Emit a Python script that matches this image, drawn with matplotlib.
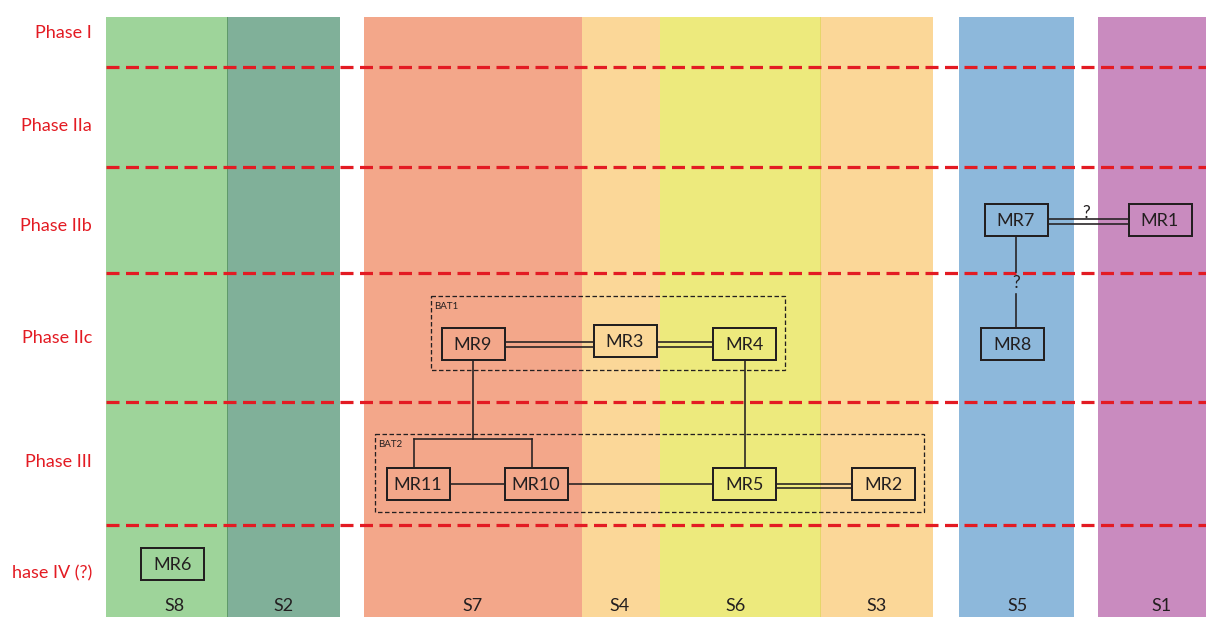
import matplotlib
matplotlib.use("Agg")
import matplotlib.pyplot as plt
from matplotlib.patches import Rectangle

plt.rcParams['font.family'] = ['Lato', 'DejaVu Sans']

# ---------------- data ----------------
strata = ['S8', 'S2', 'S7', 'S4', 'S6', 'S3', 'S5', 'S1']
strata_left = [106, 227, 364, 582, 660, 820, 959, 1098]
strata_right = [227, 340, 582, 660, 820, 933, 1074, 1224]
strata_colors = ['#9ed49a', '#80b099', '#f3a78a', '#fbd798', '#edea7d',
                 '#fbd798', '#8db8db', '#c98bbf']
strata_label_x = [174, 283, 473, 620, 736, 877, 1018, 1161]

phases = ['Phase I', 'Phase IIa', 'Phase IIb', 'Phase IIc', 'Phase III', 'hase IV (?)']
phase_label_y = [33, 126, 226, 338, 462, 573]
phase_bounds = [66.5, 167, 273, 402, 525]

nodes = ['MR1', 'MR2', 'MR3', 'MR4', 'MR5', 'MR6', 'MR7', 'MR8', 'MR9', 'MR10', 'MR11']
node_x = [1160, 883, 625, 744.5, 744.5, 172.5, 1016, 1012.5, 473, 536, 418]
node_y = [219.5, 484, 341, 344, 484, 564, 219.5, 343.5, 343.5, 484, 484]

# horizontal links: (left node, right node, double?, question mark?)
h_links = [('MR9', 'MR3', True, False), ('MR3', 'MR4', True, False),
           ('MR11', 'MR10', False, False), ('MR10', 'MR5', False, False),
           ('MR5', 'MR2', True, False), ('MR7', 'MR1', True, True)]
# vertical links: (upper node, lower node, question mark?)
v_links = [('MR4', 'MR5', False), ('MR7', 'MR8', True)]
# fork: parent -> children
forks = [('MR9', ['MR11', 'MR10'])]

groups = ['BAT1', 'BAT2']
group_x0 = [431, 375]
group_x1 = [785, 924]
group_y0 = [295.5, 433.5]
group_y1 = [369.5, 512]

# ---------------- style ----------------
W, H = 1206, 617
BOX_W, BOX_H = 63, 32
DARK = '#231f20'
RED = '#e31b23'
PX = 0.72  # points per pixel at dpi 100

fig = plt.figure(figsize=(W / 100, H / 100), dpi=100)
ax = fig.add_axes([0, 0, 1, 1])
ax.set_xlim(0, W)
ax.set_ylim(H, 0)
ax.axis('off')

# strata bands
for name, l, r, c, lx in zip(strata, strata_left, strata_right, strata_colors, strata_label_x):
    ax.add_patch(Rectangle((l, 17), r - l, H - 17, facecolor=c, edgecolor='none', zorder=0))
    ax.text(lx, 606, name, ha='center', va='center', fontsize=13, color=DARK, zorder=5)
# thin separators
ax.plot([227, 227], [17, H], color='#5f9a6a', lw=1 * PX, zorder=1)
ax.plot([820, 820], [17, H], color='#e6d66a', lw=1 * PX, zorder=1)

# phase labels and boundaries
for p, y in zip(phases, phase_label_y):
    ax.text(92, y, p, ha='right', va='center', fontsize=13, color=RED, zorder=5)
lw_red = 3.2 * PX
for y in phase_bounds:
    ax.plot([106, W], [y, y], color=RED, lw=lw_red,
            linestyle=(0, (13 * PX / lw_red, 6.5 * PX / lw_red)), zorder=3, solid_capstyle='butt')

pos = {n: (x, y) for n, x, y in zip(nodes, node_x, node_y)}

# group boxes
for g, x0, x1, y0, y1 in zip(groups, group_x0, group_x1, group_y0, group_y1):
    lw = 1.3 * PX
    ax.add_patch(Rectangle((x0, y0), x1 - x0, y1 - y0, facecolor='none', edgecolor=DARK,
                           lw=lw, linestyle=(0, (4.5 * PX / lw, 2.5 * PX / lw)), zorder=4))
    ax.text(x0 + 3, y0 + 11, g, ha='left', va='center', fontsize=7, color=DARK, zorder=5)

LW = 1.6 * PX
# horizontal links
for a, b, dbl, q in h_links:
    xa, ya = pos[a]
    xb, yb = pos[b]
    y = (ya + yb) / 2 + (2 if dbl else 0)
    xs = [xa + BOX_W / 2, xb - BOX_W / 2]
    if dbl:
        ax.plot(xs, [y - 2.3, y - 2.3], color=DARK, lw=LW, zorder=4)
        ax.plot(xs, [y + 2.3, y + 2.3], color=DARK, lw=LW, zorder=4)
    else:
        ax.plot(xs, [y, y], color=DARK, lw=LW, zorder=4)
    if q:
        ax.text((xs[0] + xs[1]) / 2 - 2, y - 8, '?', ha='center', va='center', fontsize=12.5,
                color=DARK, zorder=5)

# vertical links
for a, b, q in v_links:
    xa, ya = pos[a]
    xb, yb = pos[b]
    x = xa
    y0, y1 = ya + BOX_H / 2, yb - BOX_H / 2
    if q:
        ym = (y0 + y1) / 2 + 2
        ax.plot([x, x], [y0, ym - 12], color=DARK, lw=LW, zorder=4)
        ax.plot([x, x], [ym + 10, y1], color=DARK, lw=LW, zorder=4)
        ax.text(x, ym, '?', ha='center', va='center', fontsize=12.5, color=DARK, zorder=5)
    else:
        ax.plot([x, x], [y0, y1], color=DARK, lw=LW, zorder=4)

# forks
for parent, children in forks:
    px_, py_ = pos[parent]
    cxs = [pos[c][0] for c in children]
    cy = min(pos[c][1] for c in children) - BOX_H / 2
    bus = cy - 29
    ax.plot([px_, px_], [py_ + BOX_H / 2, bus], color=DARK, lw=LW, zorder=4)
    ax.plot([min(cxs) - 4, max(cxs) - 4], [bus, bus], color=DARK, lw=LW, zorder=4)
    for cx in cxs:
        ax.plot([cx - 4, cx - 4], [bus, cy], color=DARK, lw=LW, zorder=4)

# nodes
for n, x, y in zip(nodes, node_x, node_y):
    ax.add_patch(Rectangle((x - BOX_W / 2, y - BOX_H / 2), BOX_W, BOX_H, facecolor='none',
                           edgecolor=DARK, lw=2 * PX, zorder=5))
    ax.text(x, y + 1, n, ha='center', va='center', fontsize=13, color=DARK, zorder=6)

fig.savefig('out.png', dpi=100)
